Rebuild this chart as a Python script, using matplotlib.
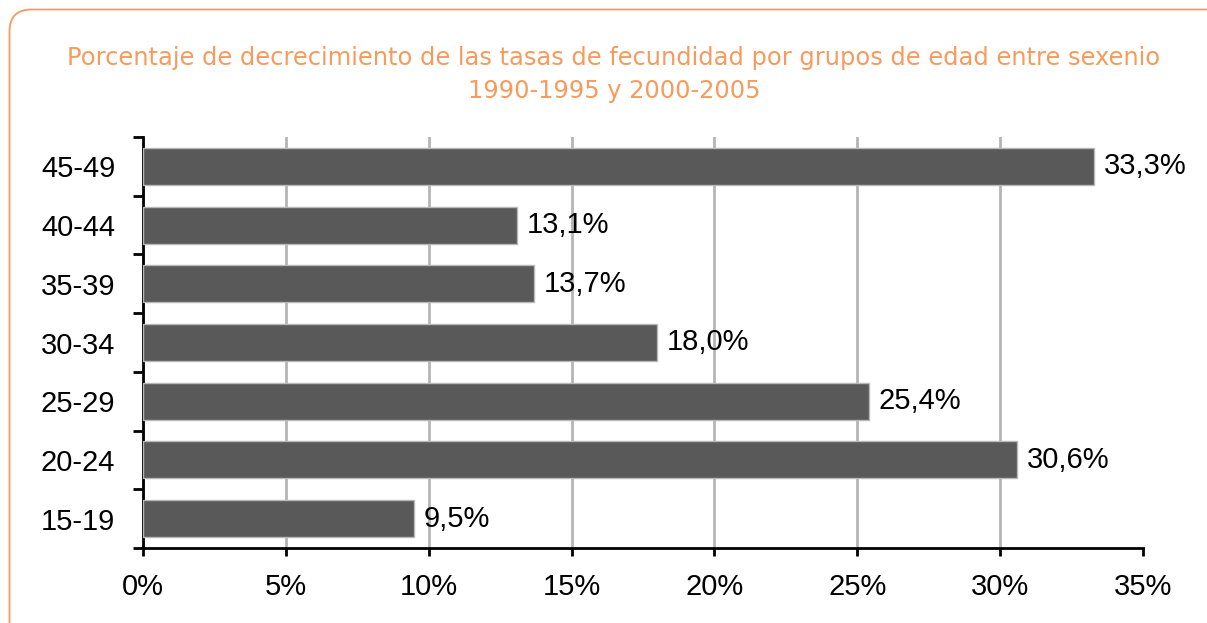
import matplotlib
matplotlib.use("Agg")
import matplotlib.pyplot as plt
import numpy as np
from matplotlib.patches import FancyBboxPatch
from matplotlib.transforms import IdentityTransform

# age groups, bottom to top, and decrease in fertility rate (%)
groups = ["15-19", "20-24", "25-29", "30-34", "35-39", "40-44", "45-49"]
values = [9.5, 30.6, 25.4, 18.0, 13.7, 13.1, 33.3]
xticks = [0, 5, 10, 15, 20, 25, 30, 35]

orange = "#f79a5c"
W, H = 1207, 623

fig = plt.figure(figsize=(W / 100, H / 100), dpi=100)
fig.patch.set_facecolor("white")

# rounded orange frame in pixels (runs off the right and bottom edges)
frame = FancyBboxPatch((9.5, -40), 1260, H - 9.5 + 40,
                       boxstyle="round,pad=0,rounding_size=22",
                       transform=IdentityTransform(), fill=False,
                       edgecolor=orange, linewidth=1.3)
fig.patches.append(frame)

title_font = dict(ha="center", va="center", color=orange, fontsize=17.4, family="DejaVu Sans")
fig.text(614 / W, 1 - 58 / H,
         "Porcentaje de decrecimiento de las tasas de fecundidad por grupos de edad entre sexenio",
         **title_font)
fig.text(614 / W, 1 - 91 / H, "1990-1995 y 2000-2005", **title_font)

ax = fig.add_axes([143 / W, 1 - 548 / H, 1000 / W, 411 / H])
y = np.arange(len(groups))
ax.barh(y, values, height=0.63, color="#595959", edgecolor="#b8b8b8", linewidth=1, zorder=3)

for yi, v in zip(y, values):
    ax.text(v + 0.33, yi, f"{v:.1f}%".replace(".", ","), va="center", ha="left",
            fontsize=21, family="Liberation Sans", color="black")

ax.set_xlim(0, 35)
ax.set_ylim(-0.5, len(groups) - 0.5)
ax.set_xticks(xticks)
ax.set_xticklabels([f"{t}%" for t in xticks], family="Liberation Sans", fontsize=21)
ax.set_yticks(y)
ax.set_yticklabels(groups, family="Liberation Sans", fontsize=21)
ax.tick_params(axis="y", length=0, pad=20)
ax.set_yticks(np.arange(-0.5, len(groups), 1), minor=True)
ax.tick_params(axis="y", which="minor", length=7, width=2, direction="out")
ax.tick_params(axis="x", length=6, width=2, direction="out", pad=12)

ax.grid(axis="x", color="#b5b5b5", linewidth=2, zorder=0)
ax.xaxis.get_gridlines()[-1].set_visible(False)
for s in ["top", "right"]:
    ax.spines[s].set_visible(False)
for s in ["left", "bottom"]:
    ax.spines[s].set_linewidth(2)
    ax.spines[s].set_color("black")

fig.savefig("out.png", dpi=100)
